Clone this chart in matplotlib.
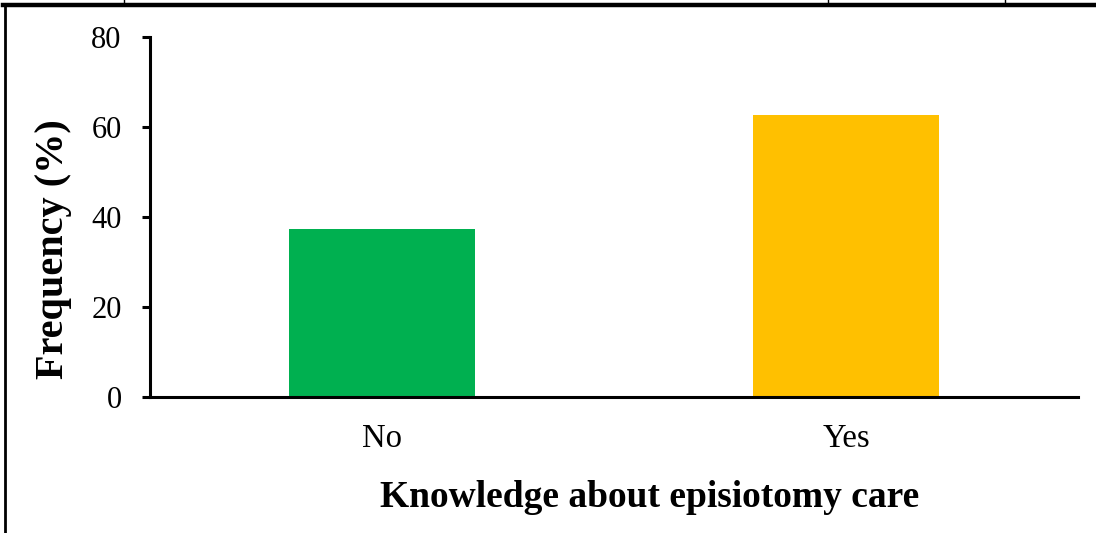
import matplotlib
matplotlib.use("Agg")
import matplotlib.pyplot as plt
from matplotlib.lines import Line2D

categories = ["No", "Yes"]
values = [37.4, 62.6]
colors = ["#00B050", "#FFC000"]
y_ticks = [0, 20, 40, 60, 80]

plt.rcParams["font.family"] = ["Liberation Serif", "DejaVu Serif"]

W, H = 1096, 533
fig = plt.figure(figsize=(W / 100, H / 100), dpi=100)
ax = fig.add_axes([150 / W, 1 - 397 / H, 928 / W, 360 / H])

x = range(len(categories))
ax.bar(x, values, width=0.4, color=colors, zorder=2)
ax.set_xlim(-0.5, len(categories) - 0.5)
ax.set_ylim(0, 80)
ax.set_yticks(y_ticks)
ax.set_xticks(list(x))
ax.set_xticklabels(categories)

for side in ("top", "right"):
    ax.spines[side].set_visible(False)
for side in ("left", "bottom"):
    ax.spines[side].set_linewidth(2.2)
    ax.spines[side].set_color("black")

ax.tick_params(axis="y", direction="out", length=6, width=2.2, labelsize=22, pad=14.5)
ax.tick_params(axis="x", length=0, labelsize=23.5, pad=19)

ax.set_ylabel("Frequency (%)", fontsize=29, fontweight="bold", va="center")
ax.yaxis.set_label_coords(-0.1045, 0.411)
ax.set_xlabel("Knowledge about episiotomy care", fontsize=27, fontweight="bold", va="center")
ax.xaxis.set_label_coords(0.538, -0.278)

# table cell borders around the chart
fig.add_artist(Line2D([3 / W, 1], [1 - 5 / H, 1 - 5 / H], transform=fig.transFigure,
                      color="black", linewidth=3.2))
fig.add_artist(Line2D([5 / W, 5 / W], [0, 1 - 5 / H], transform=fig.transFigure,
                      color="black", linewidth=2.0))
for xc in (124, 828, 1005):
    fig.add_artist(Line2D([xc / W, xc / W], [1 - 4 / H, 1], transform=fig.transFigure,
                          color="black", linewidth=1.0))

fig.savefig("out.png", dpi=100)
